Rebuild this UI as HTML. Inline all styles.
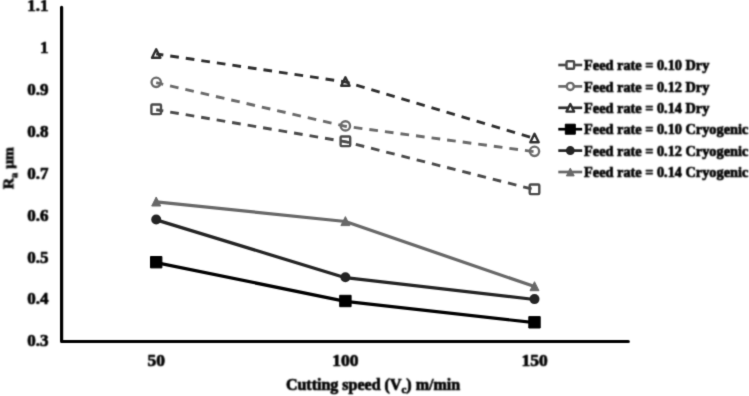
<!DOCTYPE html>
<html><head><meta charset="utf-8"><style>
html,body{margin:0;padding:0;background:#fff;}
svg{display:block;}

.t{font-family:"Liberation Serif",serif;font-weight:bold;fill:#000;stroke:#000;stroke-width:0.7;stroke-linejoin:round;}
</style></head><body>
<svg width="749" height="396" viewBox="0 0 749 396">
<defs><filter id="bl" filterUnits="userSpaceOnUse" x="0" y="0" width="749" height="396" color-interpolation-filters="sRGB"><feConvolveMatrix order="5" kernelMatrix="0 1 7 1 0 1 191 997 191 1 7 997 5208 997 7 1 191 997 191 1 0 1 7 1 0" divisor="9996" edgeMode="duplicate"/></filter>
<filter id="bt" filterUnits="userSpaceOnUse" x="0" y="0" width="749" height="396" color-interpolation-filters="sRGB"><feConvolveMatrix order="5" kernelMatrix="2 33 81 33 2 33 479 1164 479 33 81 1164 2831 1164 81 33 479 1164 479 33 2 33 81 33 2" divisor="9999" edgeMode="none"/></filter></defs>
<rect width="749" height="396" fill="#fff"/>
<g filter="url(#bl)">
<path d="M61.6,7.3 L61.6,341.5 L628.3,341.5" fill="none" stroke="#000" stroke-width="3.2" stroke-linecap="round" stroke-linejoin="round"/>
<polyline points="156.20,109.70 345.40,141.70 534.50,189.70" fill="none" stroke="#4a4a4a" stroke-width="2.9" stroke-linejoin="round" stroke-dasharray="8.7 7.0" stroke-dashoffset="1.5"/>
<polyline points="156.20,82.70 345.40,126.30 534.50,151.70" fill="none" stroke="#6a6a6a" stroke-width="2.9" stroke-linejoin="round" stroke-dasharray="8.7 7.0" stroke-dashoffset="1.5"/>
<polyline points="156.20,53.90 345.40,81.90 534.50,138.40" fill="none" stroke="#2e2e2e" stroke-width="2.9" stroke-linejoin="round" stroke-dasharray="8.7 7.0" stroke-dashoffset="1.5"/>
<polyline points="156.20,262.60 345.40,301.40 534.50,322.70" fill="none" stroke="#000000" stroke-width="3.2" stroke-linejoin="round" stroke-linecap="round"/>
<polyline points="156.20,219.90 345.40,277.70 534.50,299.50" fill="none" stroke="#242424" stroke-width="3.2" stroke-linejoin="round" stroke-linecap="round"/>
<polyline points="156.20,201.90 345.40,221.50 534.50,286.60" fill="none" stroke="#686868" stroke-width="3.2" stroke-linejoin="round" stroke-linecap="round"/>
<rect x="151.40" y="104.50" width="9.60" height="9.60" rx="1" fill="none" stroke="#4a4a4a" stroke-width="2.4"/>
<rect x="340.60" y="136.50" width="9.60" height="9.60" rx="1" fill="none" stroke="#4a4a4a" stroke-width="2.4"/>
<rect x="529.70" y="184.50" width="9.60" height="9.60" rx="1" fill="none" stroke="#4a4a4a" stroke-width="2.4"/>
<circle cx="156.20" cy="82.30" r="4.65" fill="none" stroke="#6a6a6a" stroke-width="2.4"/>
<circle cx="345.40" cy="125.90" r="4.65" fill="none" stroke="#6a6a6a" stroke-width="2.4"/>
<circle cx="534.50" cy="151.30" r="4.65" fill="none" stroke="#6a6a6a" stroke-width="2.4"/>
<path d="M156.20,49.30 L160.40,57.70 L152.00,57.70 Z" fill="none" stroke="#2e2e2e" stroke-width="2.4" stroke-linejoin="round"/>
<path d="M345.40,77.30 L349.60,85.70 L341.20,85.70 Z" fill="none" stroke="#2e2e2e" stroke-width="2.4" stroke-linejoin="round"/>
<path d="M534.50,133.80 L538.70,142.20 L530.30,142.20 Z" fill="none" stroke="#2e2e2e" stroke-width="2.4" stroke-linejoin="round"/>
<rect x="150.50" y="256.50" width="11.40" height="11.40" fill="#000000" stroke="#000000" stroke-width="1" stroke-linejoin="round"/>
<rect x="339.70" y="295.30" width="11.40" height="11.40" fill="#000000" stroke="#000000" stroke-width="1" stroke-linejoin="round"/>
<rect x="528.80" y="316.60" width="11.40" height="11.40" fill="#000000" stroke="#000000" stroke-width="1" stroke-linejoin="round"/>
<circle cx="156.20" cy="219.50" r="5.00" fill="#242424"/>
<circle cx="345.40" cy="277.30" r="5.00" fill="#242424"/>
<circle cx="534.50" cy="299.10" r="5.00" fill="#242424"/>
<path d="M156.20,197.00 L160.70,206.00 L151.70,206.00 Z" fill="#686868" stroke="#686868" stroke-width="1" stroke-linejoin="round"/>
<path d="M345.40,216.60 L349.90,225.60 L340.90,225.60 Z" fill="#686868" stroke="#686868" stroke-width="1" stroke-linejoin="round"/>
<path d="M534.50,281.70 L539.00,290.70 L530.00,290.70 Z" fill="#686868" stroke="#686868" stroke-width="1" stroke-linejoin="round"/>
<line x1="558.3" y1="65.00" x2="582.2" y2="65.00" stroke="#4a4a4a" stroke-width="2.7"/>
<rect x="566.50" y="61.20" width="7.60" height="7.60" rx="1" fill="#fff" stroke="#4a4a4a" stroke-width="2.4"/>
<line x1="558.3" y1="86.40" x2="582.2" y2="86.40" stroke="#6a6a6a" stroke-width="2.7"/>
<circle cx="570.30" cy="86.40" r="3.55" fill="#fff" stroke="#6a6a6a" stroke-width="2.4"/>
<line x1="558.3" y1="107.80" x2="582.2" y2="107.80" stroke="#2e2e2e" stroke-width="2.7"/>
<path d="M570.30,104.00 L574.10,111.60 L566.50,111.60 Z" fill="#fff" stroke="#2e2e2e" stroke-width="2.4" stroke-linejoin="round"/>
<line x1="558.3" y1="129.20" x2="582.2" y2="129.20" stroke="#000000" stroke-width="2.7"/>
<rect x="565.30" y="124.20" width="10.00" height="10.00" fill="#000000" stroke="#000000" stroke-width="1" stroke-linejoin="round"/>
<line x1="558.3" y1="150.60" x2="582.2" y2="150.60" stroke="#242424" stroke-width="2.7"/>
<circle cx="570.30" cy="150.60" r="4.50" fill="#242424"/>
<line x1="558.3" y1="172.00" x2="582.2" y2="172.00" stroke="#686868" stroke-width="2.7"/>
<path d="M570.30,168.10 L574.20,175.90 L566.40,175.90 Z" fill="#686868" stroke="#686868" stroke-width="1" stroke-linejoin="round"/>
</g>
<g filter="url(#bt)">
<text x="48.5" y="346.30" text-anchor="end" class="t" font-size="17">0.3</text>
<text x="48.5" y="304.40" text-anchor="end" class="t" font-size="17">0.4</text>
<text x="48.5" y="262.50" text-anchor="end" class="t" font-size="17">0.5</text>
<text x="48.5" y="220.60" text-anchor="end" class="t" font-size="17">0.6</text>
<text x="48.5" y="178.70" text-anchor="end" class="t" font-size="17">0.7</text>
<text x="48.5" y="136.80" text-anchor="end" class="t" font-size="17">0.8</text>
<text x="48.5" y="94.90" text-anchor="end" class="t" font-size="17">0.9</text>
<text x="48.5" y="53.00" text-anchor="end" class="t" font-size="17">1</text>
<text x="48.5" y="11.10" text-anchor="end" class="t" font-size="17">1.1</text>
<text x="156.20" y="366.3" text-anchor="middle" class="t" font-size="17.5">50</text>
<text x="345.40" y="366.3" text-anchor="middle" class="t" font-size="17.5">100</text>
<text x="534.50" y="366.3" text-anchor="middle" class="t" font-size="17.5">150</text>
<text x="373" y="389.8" text-anchor="middle" class="t" font-size="16">Cutting speed (V<tspan font-size="11" dy="3.5">c</tspan><tspan dy="-3.5">) m/min</tspan></text>
<text transform="translate(13.4,168.1) rotate(-90)" text-anchor="middle" class="t" font-size="15.5">R<tspan font-size="10" dy="3.5">a</tspan><tspan dy="-3.5"> µm</tspan></text>
<text x="584.1" y="70.20" class="t" font-size="14.3">Feed rate = 0.10 Dry</text>
<text x="584.1" y="91.60" class="t" font-size="14.3">Feed rate = 0.12 Dry</text>
<text x="584.1" y="113.00" class="t" font-size="14.3">Feed rate = 0.14 Dry</text>
<text x="584.1" y="134.40" class="t" font-size="14.3">Feed rate = 0.10 Cryogenic</text>
<text x="584.1" y="155.80" class="t" font-size="14.3">Feed rate = 0.12 Cryogenic</text>
<text x="584.1" y="177.20" class="t" font-size="14.3">Feed rate = 0.14 Cryogenic</text>
</g>
</svg>
</body></html>
